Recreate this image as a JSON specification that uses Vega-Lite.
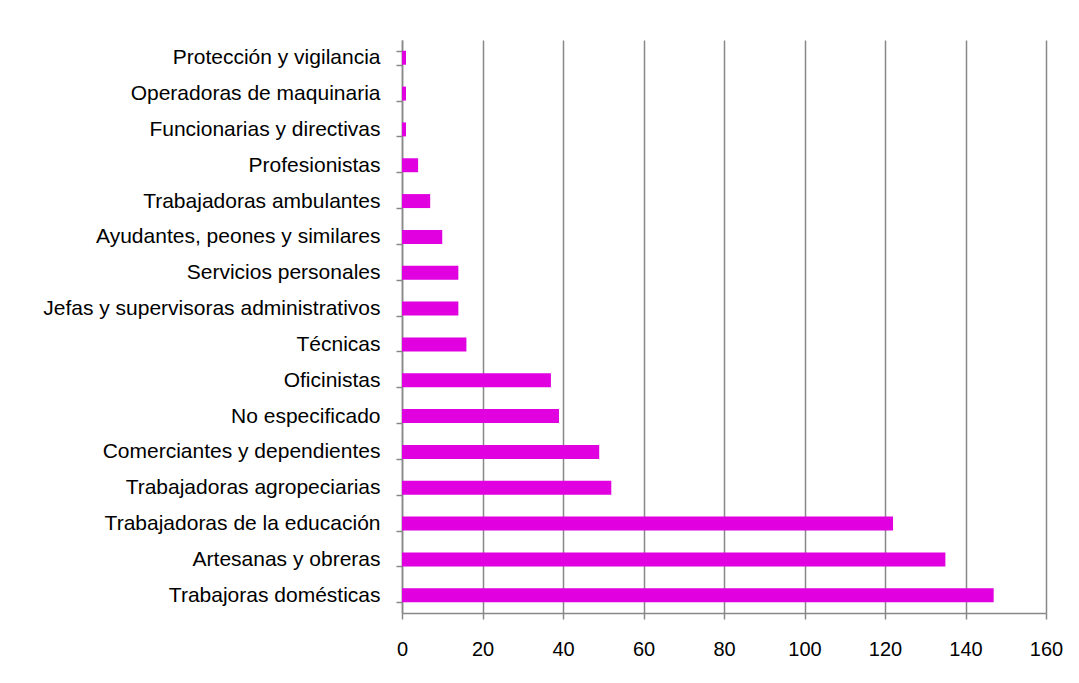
{
  "$schema": "https://vega.github.io/schema/vega-lite/v6.json",
  "autosize": {"type": "none"},
  "padding": {"left": 402, "top": 40, "right": 33, "bottom": 70},
  "width": 644,
  "height": 573,
  "background": "white",
  "config": {
    "view": {"stroke": null},
    "font": "Liberation Sans"
  },
  "data": {
    "values": [
      {"ocupacion": "Protección y vigilancia", "valor": 1},
      {"ocupacion": "Operadoras de maquinaria", "valor": 1},
      {"ocupacion": "Funcionarias y directivas", "valor": 1},
      {"ocupacion": "Profesionistas", "valor": 4},
      {"ocupacion": "Trabajadoras ambulantes", "valor": 7},
      {"ocupacion": "Ayudantes, peones y similares", "valor": 10},
      {"ocupacion": "Servicios personales", "valor": 14},
      {"ocupacion": "Jefas y supervisoras administrativos", "valor": 14},
      {"ocupacion": "Técnicas", "valor": 16},
      {"ocupacion": "Oficinistas", "valor": 37},
      {"ocupacion": "No especificado", "valor": 39},
      {"ocupacion": "Comerciantes y dependientes", "valor": 49},
      {"ocupacion": "Trabajadoras agropeciarias", "valor": 52},
      {"ocupacion": "Trabajadoras de la educación", "valor": 122},
      {"ocupacion": "Artesanas y obreras", "valor": 135},
      {"ocupacion": "Trabajoras domésticas", "valor": 147}
    ]
  },
  "mark": {"type": "bar", "color": "#E000E0"},
  "encoding": {
    "y": {
      "field": "ocupacion",
      "type": "nominal",
      "sort": null,
      "scale": {"paddingInner": 0.61, "paddingOuter": 0.3},
      "axis": {
        "title": null,
        "domainColor": "#888888",
        "domainWidth": 1.5,
        "tickColor": "#888888",
        "tickWidth": 1.5,
        "tickSize": 6,
        "tickBand": "extent",
        "labelPadding": 16,
        "labelFontSize": 21,
        "labelColor": "#000000",
        "labelLimit": 500
      }
    },
    "x": {
      "field": "valor",
      "type": "quantitative",
      "scale": {"domain": [0, 160], "nice": false},
      "axis": {
        "title": null,
        "values": [0, 20, 40, 60, 80, 100, 120, 140, 160],
        "grid": true,
        "gridColor": "#888888",
        "gridWidth": 1.5,
        "gridOpacity": 1,
        "domainColor": "#888888",
        "domainWidth": 1.5,
        "tickColor": "#888888",
        "tickWidth": 1.5,
        "tickSize": 6,
        "labelPadding": 20,
        "labelFontSize": 20,
        "labelColor": "#000000",
        "labelFlush": false
      }
    }
  }
}
